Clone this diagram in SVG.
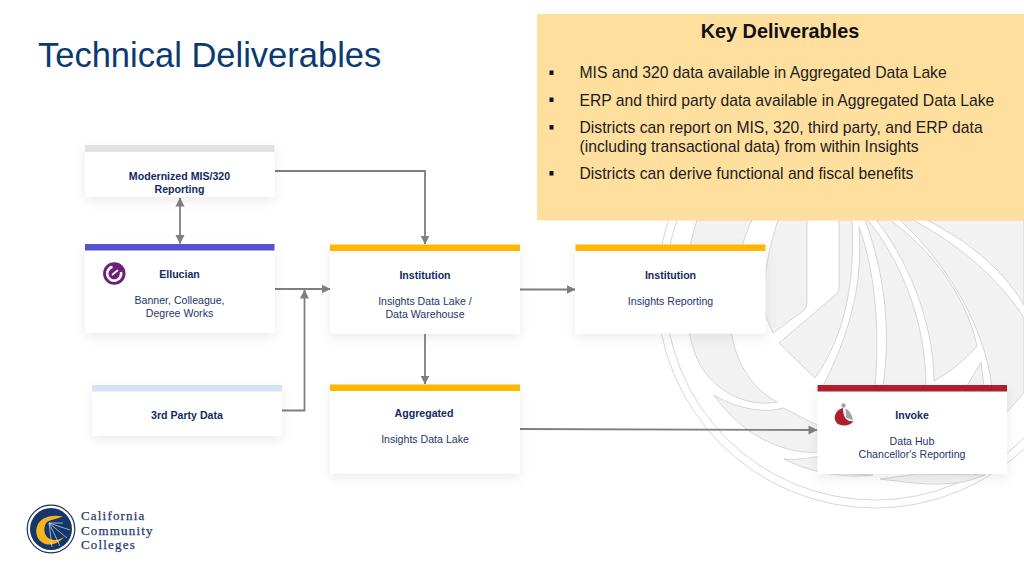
<svg xmlns="http://www.w3.org/2000/svg" width="1024" height="576" viewBox="0 0 1024 576">
<defs>
<filter id="sh" x="-20%" y="-20%" width="140%" height="150%"><feDropShadow dx="0" dy="4" stdDeviation="6" flood-color="#000" flood-opacity="0.08"/></filter>
<marker id="ah" markerUnits="userSpaceOnUse" markerWidth="9" markerHeight="10" refX="8.500" refY="5" orient="auto-start-reverse"><path d="M0 .5L9 5L0 9.500Z" fill="#7f7f7f"/></marker>
</defs>
<style>
text{font-family:"Liberation Sans",Arial,sans-serif}
.t{font-size:10.600px;fill:#24366c;text-anchor:middle}
.b{font-size:10.600px;font-weight:bold;fill:#132a63;text-anchor:middle}
.k{font-size:15.700px;fill:#1c1c1c}
.c{fill:#fff;filter:url(#sh)}
.cn{fill:none;stroke:#7f7f7f;stroke-width:1.800}
.w{fill:#f2f2f2;stroke:#c6c6c6;stroke-width:.7}
.o{fill:none;stroke:#c6c6c6;stroke-width:.7}
.lg{font-family:"Liberation Serif",serif;font-size:13px;letter-spacing:1.180px;fill:#2b3a66;stroke:#2b3a66;stroke-width:.25}
</style>
<rect width="1024" height="576" fill="#fff"/>
<g id="watermark">
<circle class="o" cx="875" cy="290" r="218"/>
<circle class="o" cx="875" cy="290" r="210"/>
<path class="w" d="M697 220C680 270 682 330 700 365C715 390 745 408 777 402C745 385 725 345 732 300C735 270 742 240 752 220Z"/>
<path class="w" d="M778 220C768 250 760 290 766 317L773 333L803 311C806 309 807 305 807 300V220Z"/>
<path class="w" d="M839 220V285C839 291 837 294 833 297L779 343L815 378C840 343 856 293 852 220Z"/>
<path class="w" d="M859 227C862 270 857 320 823 386H875C880 330 875 270 859 227Z"/>
<path class="w" d="M865 220C880 260 893 320 883 386H926C926 320 900 260 868 220Z"/>
<path class="w" d="M876 220C905 255 934 320 934 381C950 372 965 360 977 346C965 290 925 245 890 220Z"/>
<path class="w" d="M900 220C945 262 985 325 992 388L1007 412L1024 393V318C1000 280 960 245 913 220Z"/>
<path class="w" d="M927 220C965 240 1000 265 1024 305V220Z"/>
<path class="w" d="M981 362L967 386H984Z"/>
<path class="w" d="M714 395C730 405 760 415 783 408C795 413 805 420 820 426V452C790 455 745 440 714 395Z"/>
<path class="w" d="M784 459C795 460 805 459 820 456V472L873 475C850 478 815 475 784 459Z"/>
<path class="w" d="M880 479L917 474L985 475C950 490 915 483 880 479Z" fill="#f5f5f5"/>
</g>
<rect id="key-panel" x="537" y="14" width="487" height="206.500" fill="#ffdf9e"/>
<g id="key-deliverables">
<text x="780" y="38" text-anchor="middle" font-size="19.800" font-weight="bold" fill="#111">Key Deliverables</text>
<g fill="#111"><rect x="549.500" y="70.500" width="4" height="4.500"/><rect x="549.500" y="97.500" width="4" height="4.500"/><rect x="549.500" y="125" width="4" height="4.500"/><rect x="549.500" y="171" width="4" height="4.500"/></g>
<text class="k" x="579.500" y="78">MIS and 320 data available in Aggregated Data Lake</text>
<text class="k" x="579.500" y="105.500">ERP and third party data available in Aggregated Data Lake</text>
<text class="k" x="579.500" y="133">Districts can report on MIS, 320, third party, and ERP data</text>
<text class="k" x="579.500" y="152">(including transactional data) from within Insights</text>
<text class="k" x="579.500" y="179">Districts can derive functional and fiscal benefits</text>
</g>
<text id="title" x="38" y="67" font-size="34.500" fill="#0b3a73">Technical Deliverables</text>
<g id="connectors">
<path class="cn" d="M275 171H425V244" marker-end="url(#ah)"/>
<path class="cn" d="M180 198V243.500" marker-start="url(#ah)" marker-end="url(#ah)"/>
<path class="cn" d="M275 289H330" marker-end="url(#ah)"/>
<path class="cn" d="M282 410.500H304.500V290" marker-end="url(#ah)"/>
<path class="cn" d="M520 289.500H575" marker-end="url(#ah)"/>
<path class="cn" d="M425 334V384" marker-end="url(#ah)"/>
<path class="cn" d="M520 429L817 430" marker-end="url(#ah)"/>
</g>
<g id="node-mis">
<rect class="c" x="85" y="145" width="189.500" height="52"/><rect x="85" y="145" width="189.500" height="7" fill="#e2e2e2"/>
<text class="b" x="179.500" y="180">Modernized MIS/320</text><text class="b" x="179.500" y="193">Reporting</text>
</g>
<g id="node-ellucian">
<rect class="c" x="85" y="244" width="189.500" height="89"/><rect x="85" y="244" width="189.500" height="6.500" fill="#5452cf"/>
<circle cx="114.300" cy="273.500" r="11.200" fill="#6f1f78"/>
<path d="M112.500 266.800A7 7 0 1 0 121 272" fill="none" stroke="#fff" stroke-width="2.600"/>
<path d="M112 275L118 270" fill="none" stroke="#fff" stroke-width="1.700"/>
<text class="b" x="179.500" y="278">Ellucian</text>
<text class="t" x="179.500" y="304">Banner, Colleague,</text><text class="t" x="179.500" y="317">Degree Works</text>
</g>
<g id="node-third-party">
<rect class="c" x="92" y="385" width="190" height="50.500"/><rect x="92" y="385" width="190" height="6.500" fill="#d3e3f8"/>
<text class="b" x="187" y="419">3rd Party Data</text>
</g>
<g id="node-institution-lake">
<rect class="c" x="330" y="244.500" width="190" height="89"/><rect x="330" y="244.500" width="190" height="6.500" fill="#ffb600"/>
<text class="b" x="425" y="279">Institution</text>
<text class="t" x="425" y="305">Insights Data Lake /</text><text class="t" x="425" y="318">Data Warehouse</text>
</g>
<g id="node-institution-reporting">
<rect class="c" x="575.500" y="244.500" width="190" height="89"/><rect x="575.500" y="244.500" width="190" height="6.500" fill="#ffb600"/>
<text class="b" x="670.500" y="279">Institution</text>
<text class="t" x="670.500" y="305">Insights Reporting</text>
</g>
<g id="node-aggregated">
<rect class="c" x="330" y="384.500" width="190" height="89"/><rect x="330" y="384.500" width="190" height="6.500" fill="#ffb600"/>
<text class="b" x="424" y="417">Aggregated</text>
<text class="t" x="425" y="443">Insights Data Lake</text>
</g>
<g id="node-invoke">
<rect class="c" x="817.500" y="385" width="189.500" height="89"/><rect x="817.500" y="385" width="189.500" height="6.500" fill="#b01e2e"/>
<circle cx="843.500" cy="405.500" r="2.200" fill="#a3a3a3"/>
<path d="M845.500 408.500C849 410 852 414 853 420.500L846 417.500Z" fill="#a3a3a3"/>
<path d="M843 408C834 410 832 421 839 424.500C845 427 851 425 853.500 421C848 422 843 419 843 408Z" fill="#b01e2e"/>
<text class="b" x="912" y="419">Invoke</text>
<text class="t" x="912" y="445">Data Hub</text><text class="t" x="912" y="458">Chancellor's Reporting</text>
</g>
<g id="logo">
<circle cx="51" cy="529" r="23.800" fill="#fff" stroke="#20325f" stroke-width="1.200"/>
<circle cx="51" cy="529" r="21" fill="#15366b"/>
<path d="M63 516.500C52 514 42 517 38 524C34 532 37 541 45 544C52 546 59 543 64 537C58 541 51 541 47 537C43 532 44 526 47 522C50 520 56 519 63 516.500Z" fill="#f5b51b"/>
<path d="M49 523H63M49 523L70 530M49 523L67 538M49 523L60 546M49 523L52 547" stroke="#d7dfe9" stroke-width=".7" fill="none"/>
<text class="lg" x="81" y="519.500">California</text>
<text class="lg" x="81" y="534.500">Community</text>
<text class="lg" x="81" y="549">Colleges</text>
</g>
</svg>
